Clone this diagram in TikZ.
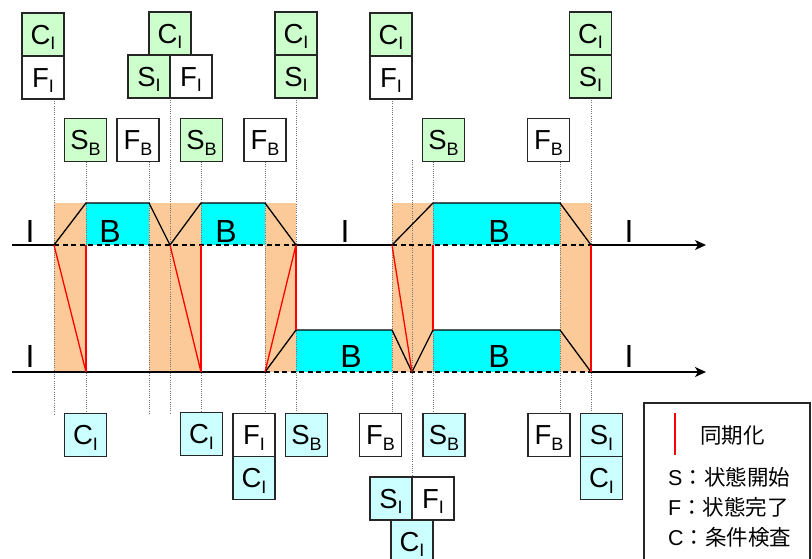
\documentclass[tikz,border=0pt]{standalone}
\usepackage{fontspec}
\setmainfont{Liberation Sans}
\newfontfamily\jpfont{Noto Sans CJK JP}
\usetikzlibrary{arrows.meta}

\definecolor{boxgreen}{HTML}{CCFFCC}
\definecolor{boxcyan}{HTML}{CCFFFF}
\definecolor{busycyan}{HTML}{00FFFF}
\definecolor{transorange}{HTML}{FCCA98}
\definecolor{syncred}{HTML}{FF0000}

% state label with a lowered index, e.g. C_I
\newcommand\stname[2]{#1\raisebox{-5.5pt}{\fontsize{18}{18}\selectfont #2}}

\tikzset{
  stbox/.style={draw=black!85, line width=1.3pt, minimum width=42pt, minimum height=43pt,
    inner sep=0pt, text height=19.5pt, text depth=0pt, font=\fontsize{27.5}{27.5}\selectfont},
  gbox/.style={stbox, fill=boxgreen},
  cbox/.style={stbox, fill=boxcyan},
  wbox/.style={stbox, fill=white},
  tickline/.style={draw=black!55, line width=0.9pt, dash pattern=on 1pt off 1.2pt},
  axis/.style={line width=1.4pt, black},
  axisdash/.style={line width=1.4pt, black, dash pattern=on 5pt off 3.5pt},
  trans/.style={line width=1.3pt, black, line join=round},
  sync/.style={line width=1.3pt, syncred},
  stlabel/.style={anchor=base, inner sep=0pt, font=\fontsize{32}{32}\selectfont},
  legtext/.style={anchor=west, inner sep=0pt, font=\fontsize{21.5}{22}\selectfont}
}

\begin{document}
\begin{tikzpicture}[x=1pt, y=-1pt]
\useasboundingbox (0,0) rectangle (812,558);

% time instants
\coordinate (t1) at (54,0);
\coordinate (t2) at (86,0);
\coordinate (t3) at (149,0);
\coordinate (t4) at (170,0);
\coordinate (t5) at (201,0);
\coordinate (t6) at (265,0);
\coordinate (t7) at (296,0);
\coordinate (t8) at (392,0);
\coordinate (t9) at (412,0);
\coordinate (t10) at (433,0);
\coordinate (t11) at (560,0);
\coordinate (t12) at (591,0);
\coordinate (lowend) at (0,414);
\coordinate (t9top) at (412,160);

% transition intervals
\fill[transorange] (54,203) rectangle (86,372);
\fill[transorange] (149,203) rectangle (201,372);
\fill[transorange] (265,203) rectangle (296,372);
\fill[transorange] (392,203) rectangle (433,372);
\fill[transorange] (560,203) rectangle (591,372);

% busy intervals
\fill[busycyan] (86,203) rectangle (149,245);
\fill[busycyan] (201,203) rectangle (265,245);
\fill[busycyan] (433,203) rectangle (560,245);
\fill[busycyan] (296,330) rectangle (392,372);
\fill[busycyan] (433,330) rectangle (560,372);

% guide lines between the event boxes
\draw[tickline] (t1 |- 0,99) -- (t1 |- lowend);
\draw[tickline] (t2 |- 0,162) -- (t2 |- lowend);
\draw[tickline] (t3 |- 0,162) -- (t3 |- lowend);
\draw[tickline] (t4 |- 0,98) -- (t4 |- lowend);
\draw[tickline] (t5 |- 0,162) -- (t5 |- lowend);
\draw[tickline] (t6 |- 0,162) -- (t6 |- lowend);
\draw[tickline] (t7 |- 0,98) -- (t7 |- lowend);
\draw[tickline] (t8 |- 0,99) -- (t8 |- lowend);
\draw[tickline] (t9top) -- (t9 |- 0,477);
\draw[tickline] (t10 |- 0,162) -- (t10 |- lowend);
\draw[tickline] (t11 |- 0,162) -- (t11 |- lowend);
\draw[tickline] (t12 |- 0,98) -- (t12 |- lowend);

% upper time axis
\draw[axis] (12,245) -- (t1 |- 0,245);
\draw[axisdash] (t1 |- 0,245) -- (t7 |- 0,245);
\draw[axis] (t7 |- 0,245) -- (t8 |- 0,245);
\draw[axisdash] (t8 |- 0,245) -- (t12 |- 0,245);
\draw[axis, -{Stealth[length=11pt, width=10pt, inset=3pt]}] (t12 |- 0,245) -- (706,245);

% lower time axis
\draw[axis] (12,372) -- (t6 |- 0,372);
\draw[axisdash] (t6 |- 0,372) -- (t12 |- 0,372);
\draw[axis, -{Stealth[length=11pt, width=10pt, inset=3pt]}] (t12 |- 0,372) -- (706,372);

% state transitions
\draw[trans] (54,245) -- (86,203) -- (149,203) -- (170,245) -- (201,203) -- (265,203) -- (296,245);
\draw[trans] (392,245) -- (433,203) -- (560,203) -- (591,245);
\draw[trans] (265,372) -- (296,330) -- (392,330) -- (412,372) -- (433,330) -- (560,330) -- (591,372);

% synchronisation
\draw[sync] (54,245) -- (86,372);
\draw[sync] (86,245) -- (86,372);
\draw[sync] (170,245) -- (201,372);
\draw[sync] (201,245) -- (201,372);
\draw[sync] (265,372) -- (296,245);
\draw[sync] (296,245) -- (296,330);
\draw[sync] (392,245) -- (412,372);
\draw[sync] (433,245) -- (433,330);
\draw[sync] (591,245) -- (591,372);

% state names on the axes
\node[stlabel] (iu1) at (30,242) {I};
\node[stlabel] (bu1) at (110,242) {B};
\node[stlabel] (bu2) at (226,242) {B};
\node[stlabel] (iu2) at (345,242) {I};
\node[stlabel] (bu3) at (499,242) {B};
\node[stlabel] (iu3) at (629,242) {I};
\node[stlabel] (il1) at (30,367) {I};
\node[stlabel] (bl1) at (351,367) {B};
\node[stlabel] (bl2) at (499,367) {B};
\node[stlabel] (il2) at (629,367) {I};

% events of the upper process
\node[gbox] (c1) at (43,34.5) {\stname{C}{I}};
\node[wbox] (f1) at (43,77.5) {\stname{F}{I}};
\node[gbox] (s2) at (149,76.5) {\stname{S}{I}};
\node[wbox] (f2) at (191,76.5) {\stname{F}{I}};
\node[gbox] (c2) at (170,33.5) {\stname{C}{I}};
\node[gbox] (c3) at (296,33.5) {\stname{C}{I}};
\node[gbox] (s3) at (296,76.5) {\stname{S}{I}};
\node[gbox] (c4) at (391,34.5) {\stname{C}{I}};
\node[wbox] (f4) at (391,77.5) {\stname{F}{I}};
\node[gbox] (c5) at (590.5,33.5) {\stname{C}{I}};
\node[gbox] (s5) at (590.5,76.5) {\stname{S}{I}};

\node[gbox] (sb1) at (85.5,140) {\stname{S}{B}};
\node[wbox] (fb1) at (138,140) {\stname{F}{B}};
\node[gbox] (sb2) at (201.5,140) {\stname{S}{B}};
\node[wbox] (fb2) at (265,140) {\stname{F}{B}};
\node[gbox] (sb3) at (443.5,140) {\stname{S}{B}};
\node[wbox] (fb3) at (548.5,140) {\stname{F}{B}};

% events of the lower process
\node[cbox] (bc1) at (85.5,435) {\stname{C}{I}};
\node[cbox] (bc2) at (201.5,434) {\stname{C}{I}};
\node[wbox] (bf3) at (254,435) {\stname{F}{I}};
\node[cbox] (bc3) at (254,478) {\stname{C}{I}};
\node[cbox] (bsb1) at (306.5,435) {\stname{S}{B}};
\node[wbox] (bfb1) at (380.5,435) {\stname{F}{B}};
\node[cbox] (bc4) at (412,541.5) {\stname{C}{I}};
\node[cbox] (bs4) at (391,498.5) {\stname{S}{I}};
\node[wbox] (bf4) at (433,498.5) {\stname{F}{I}};
\node[cbox] (bsb2) at (444,435) {\stname{S}{B}};
\node[wbox] (bfb2) at (549,435) {\stname{F}{B}};
\node[cbox] (bs5) at (601.5,435) {\stname{S}{I}};
\node[cbox] (bc5) at (601.5,478) {\stname{C}{I}};

% legend
\draw[line width=1.2pt, black!85] (644,570) -- (644,403) -- (810,403) -- (810,570);
\coordinate (legtop) at (675,413);
\coordinate (legbot) at (675,455);
\draw[sync] (legtop) -- (legbot);
\node[legtext] (lsync) at (700,435) {\jpfont 同期化};
\node[legtext] (lstart) at (668,477) {S\jpfont：状態開始};
\node[legtext] (lend) at (668,507) {F\jpfont：状態完了};
\node[legtext] (lcond) at (668,537) {C\jpfont：条件検査};
\end{tikzpicture}
\end{document}
